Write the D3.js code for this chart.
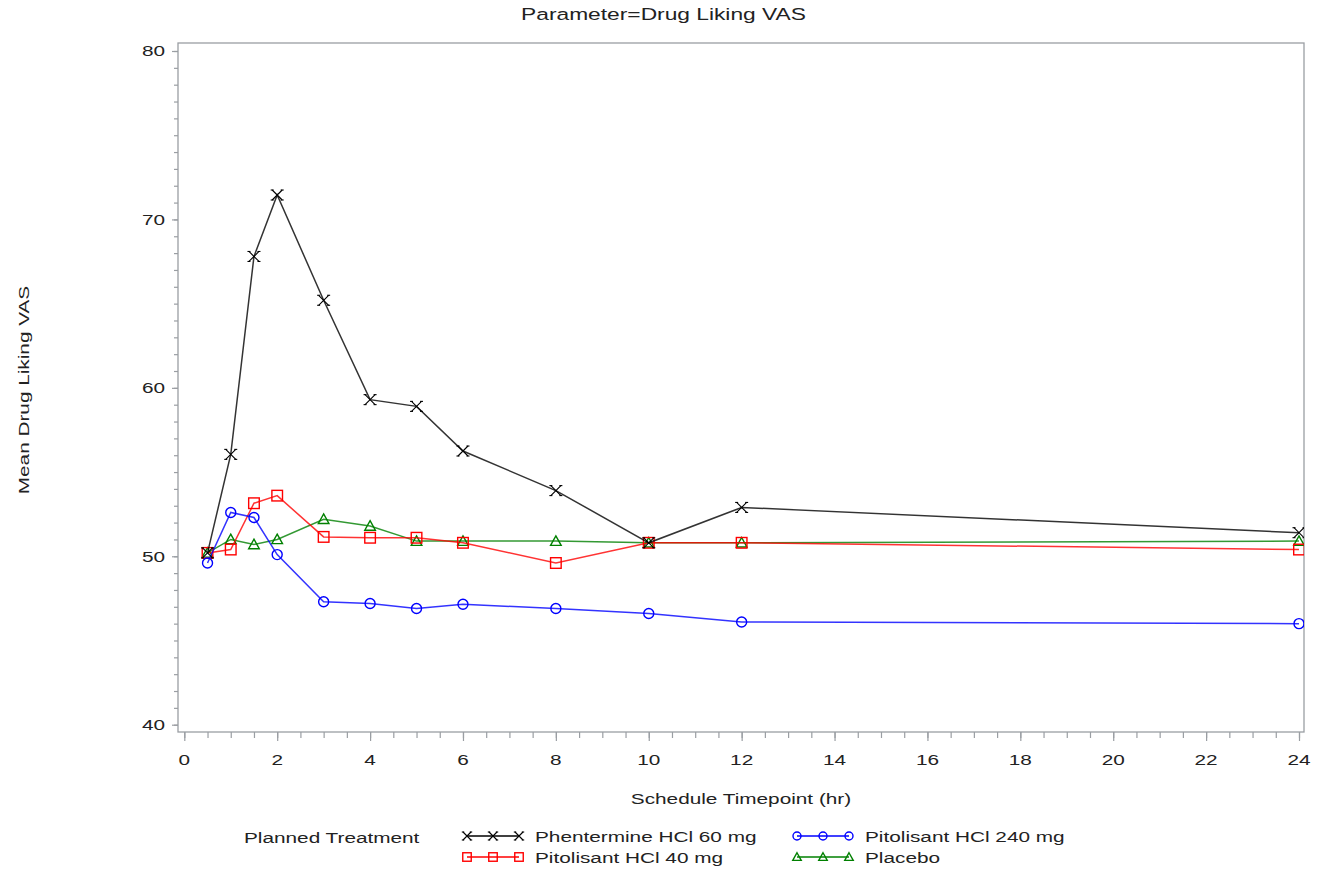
<!DOCTYPE html>
<html>
<head>
<meta charset="utf-8">
<script src="https://cdn.jsdelivr.net/npm/d3@7"></script>
<style>
  body { margin: 0; background: #fff; }
  svg { display: block; font-family: "Liberation Sans", Arial, sans-serif; }
</style>
</head>
<body>
<svg id="chart" width="1327" height="873"></svg>
<script>
// Mean Drug Liking VAS by scheduled timepoint and planned treatment
const timepoints = [0.5, 1, 1.5, 2, 3, 4, 5, 6, 8, 10, 12, 24];
const phentermine60 = [50.2, 56.05, 67.8, 71.45, 65.2, 59.3, 58.9, 56.25, 53.9, 50.8, 52.9, 51.4];
const pitolisant240 = [49.6, 52.6, 52.3, 50.1, 47.3, 47.2, 46.9, 47.15, 46.9, 46.6, 46.1, 46.0];
const pitolisant40  = [50.2, 50.4, 53.15, 53.6, 51.15, 51.1, 51.1, 50.8, 49.6, 50.8, 50.8, 50.4];
const placebo       = [50.2, 51.0, 50.7, 51.0, 52.2, 51.8, 50.9, 50.9, 50.9, 50.8, 50.8, 50.9];

const xTicks = [0, 2, 4, 6, 8, 10, 12, 14, 16, 18, 20, 22, 24];
const yTicks = [40, 50, 60, 70, 80];

const seriesNames = ["Phentermine HCl 60 mg", "Pitolisant HCl 240 mg", "Pitolisant HCl 40 mg", "Placebo"];
const seriesColors = ["#000000", "#0000ff", "#ff0000", "#008000"];
const seriesMarkers = ["x", "circle", "square", "triangle"];
const seriesValues = [phentermine60, pitolisant240, pitolisant40, placebo];

const svg = d3.select("#chart");
const frame = { left: 178, right: 1304, top: 43, bottom: 732 };

const x = d3.scaleLinear().domain([0, 24]).range([184.3, 1299]);
const y = d3.scaleLinear().domain([40, 80]).range([724.7, 51]);

const axisColor = "#9a9ea3";
const textColor = "#222";
const fontSize = 15.5;
const wide = 1.34;   // horizontal widening of the label font

// Text helper: widened glyphs anchored at (px, py), optionally rotated
function label(parent, px, py, str, opts = {}) {
  const g = parent.append("g")
    .attr("transform", `translate(${px},${py}) rotate(${opts.rotate || 0})`);
  g.append("text")
    .attr("transform", `scale(${wide},1)`)
    .attr("text-anchor", opts.anchor || "start")
    .attr("dy", opts.dy || 0)
    .attr("font-size", opts.size || fontSize)
    .attr("fill", textColor)
    .text(str);
  return g;
}

// Title
label(svg, 663.5, 20, "Parameter=Drug Liking VAS", { anchor: "middle", size: 17 });

// Frame
svg.append("rect")
  .attr("x", frame.left).attr("y", frame.top)
  .attr("width", frame.right - frame.left).attr("height", frame.bottom - frame.top)
  .attr("fill", "none").attr("stroke", axisColor).attr("stroke-width", 1.3);

// Y axis: minor ticks every unit, major ticks every 10
const yAxis = svg.append("g").attr("transform", `translate(${frame.left},0)`);
yAxis.call(d3.axisLeft(y).tickValues(d3.range(40, 81, 1)).tickSize(4).tickFormat(""))
  .call(g => g.select(".domain").remove())
  .call(g => g.selectAll(".tick line").attr("stroke", axisColor).attr("stroke-width", 1.2));
yAxis.append("g")
  .call(d3.axisLeft(y).tickValues(yTicks).tickSize(6).tickFormat(""))
  .call(g => g.select(".domain").remove())
  .call(g => g.selectAll(".tick line").attr("stroke", axisColor).attr("stroke-width", 1.2));
yTicks.forEach(v => label(svg, frame.left - 13, y(v), String(v), { anchor: "end", dy: "0.35em" }));

// X axis: minor ticks every half hour, major ticks every 2 hours
const xAxis = svg.append("g").attr("transform", `translate(0,${frame.bottom})`);
xAxis.call(d3.axisBottom(x).tickValues(d3.range(0, 24.01, 0.5)).tickSize(6).tickFormat(""))
  .call(g => g.select(".domain").remove())
  .call(g => g.selectAll(".tick line").attr("stroke", axisColor).attr("stroke-width", 1.2));
xAxis.append("g")
  .call(d3.axisBottom(x).tickValues(xTicks).tickSize(9).tickFormat(""))
  .call(g => g.select(".domain").remove())
  .call(g => g.selectAll(".tick line").attr("stroke", axisColor).attr("stroke-width", 1.2));
xTicks.forEach(v => label(svg, x(v), 765, d3.format("d")(v), { anchor: "middle" }));

// Axis titles
label(svg, (frame.left + frame.right) / 2, 804, "Schedule Timepoint (hr)", { anchor: "middle" });
label(svg, 29, 390, "Mean Drug Liking VAS", { anchor: "middle", rotate: -90 });

// Marker drawing
function drawMarker(g, type, color, cx, cy, k = 1) {
  if (type === "x") {
    const s = 5 * k;
    const m = g.append("g").attr("transform", `translate(${cx},${cy})`)
      .attr("stroke", color).attr("stroke-width", 1.1).attr("fill", "none");
    m.append("path").attr("d", `M${-s},${-s}L${s},${s}M${-s},${s}L${s},${-s}`);
    // short bars at the arm ends
    [[-s, -s], [s, s], [-s, s], [s, -s]].forEach(([a, b]) => {
      m.append("path").attr("d", `M${a - 1.5 * k},${b}L${a + 1.5 * k},${b}`);
    });
  } else if (type === "circle") {
    g.append("circle").attr("cx", cx).attr("cy", cy).attr("r", 5 * k)
      .attr("fill", "none").attr("stroke", color).attr("stroke-width", 1.4);
  } else if (type === "square") {
    const h = 5.3 * k;
    g.append("rect").attr("x", cx - h).attr("y", cy - h).attr("width", 2 * h).attr("height", 2 * h)
      .attr("fill", "none").attr("stroke", color).attr("stroke-width", 1.4);
  } else if (type === "triangle") {
    const h = 5.3 * k;
    g.append("path").attr("d", `M${cx},${cy - h}L${cx + h},${cy + h * 0.8}L${cx - h},${cy + h * 0.8}Z`)
      .attr("fill", "none").attr("stroke", color).attr("stroke-width", 1.4);
  }
}

// Plot area clip
svg.append("defs").append("clipPath").attr("id", "plotClip")
  .append("rect").attr("x", frame.left).attr("y", frame.top)
  .attr("width", frame.right - frame.left).attr("height", frame.bottom - frame.top);

const plot = svg.append("g").attr("clip-path", "url(#plotClip)");
const line = d3.line().x(d => x(d[0])).y(d => y(d[1]));

// draw order: placebo, 40 mg, 240 mg, phentermine on top
[3, 2, 1, 0].forEach(i => {
  const pts = timepoints.map((t, j) => [t, seriesValues[i][j]]);
  const g = plot.append("g");
  g.append("path").datum(pts).attr("d", line)
    .attr("fill", "none").attr("stroke", seriesColors[i]).attr("stroke-width", 1.5)
    .attr("stroke-opacity", 0.8);
  pts.forEach(p => drawMarker(g, seriesMarkers[i], seriesColors[i], x(p[0]), y(p[1])));
});

// Legend
const legend = svg.append("g");
label(legend, 244, 843, "Planned Treatment");
const legendPos = [
  { sx: 467, tx: 535, y: 836 },
  { sx: 797, tx: 865, y: 836 },
  { sx: 467, tx: 535, y: 857 },
  { sx: 797, tx: 865, y: 857 }
];
legendPos.forEach((p, i) => {
  legend.append("line").attr("x1", p.sx).attr("x2", p.sx + 52).attr("y1", p.y).attr("y2", p.y)
    .attr("stroke", seriesColors[i]).attr("stroke-width", 1.4);
  [0, 26, 52].forEach(dx => drawMarker(legend, seriesMarkers[i], seriesColors[i], p.sx + dx, p.y, 0.8));
  label(legend, p.tx, p.y + 6, seriesNames[i]);
});
</script>
</body>
</html>
